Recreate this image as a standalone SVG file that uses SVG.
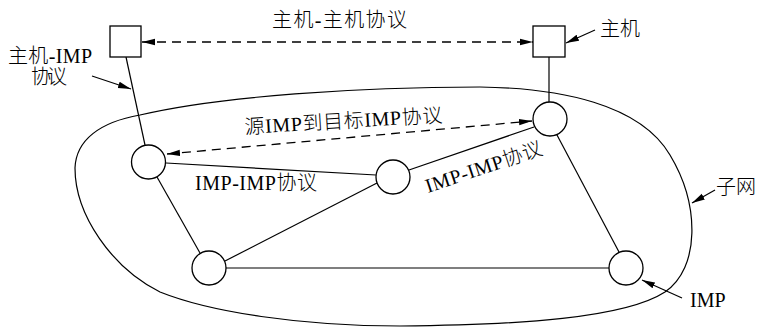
<svg xmlns="http://www.w3.org/2000/svg" width="758" height="327" viewBox="0 0 758 327">
<defs>
<style>
.ln{stroke:#000;stroke-width:1.2;fill:none}
.ds{stroke:#000;stroke-width:1.3;fill:none;stroke-dasharray:9 6}
.nd{stroke:#000;stroke-width:1.3;fill:#fff}
.tx{font-family:"Liberation Serif","Noto Sans CJK SC",serif;font-size:20px;font-weight:300;fill:#000}
</style>
<marker id="ah" markerUnits="userSpaceOnUse" markerWidth="14" markerHeight="8" refX="13" refY="4" orient="auto-start-reverse">
<path d="M0,0.8 L13,4 L0,7.2 Z" fill="#000"/>
</marker>
</defs>
<rect width="758" height="327" fill="#fff"/>
<g id="subnet">
<path class="ln" d="M140 115 C220 96 360 87 480 87 C560 88 640 104 670 155 C700 205 700 268 665 292 C625 318 520 325 400 326 C300 326 210 312 160 292 C112 268 75 215 75 168 C76 140 100 122 140 115 Z"/>
</g>
<g id="connectors">
<line class="ln" x1="126" y1="57" x2="145" y2="145"/>
<line class="ln" x1="549" y1="57" x2="549" y2="102"/>
<line class="ln" x1="166" y1="163" x2="376" y2="175"/>
<line class="ln" x1="409" y1="170" x2="534" y2="127"/>
<line class="ln" x1="157" y1="177" x2="200" y2="253"/>
<line class="ln" x1="225" y1="261" x2="377" y2="183"/>
<line class="ln" x1="226" y1="268" x2="609" y2="268"/>
<line class="ln" x1="557" y1="135" x2="619" y2="252"/>
<line class="ds" x1="142" y1="42" x2="533" y2="42" marker-start="url(#ah)" marker-end="url(#ah)"/>
<line class="ds" x1="167" y1="154" x2="532" y2="121" marker-start="url(#ah)" marker-end="url(#ah)"/>
<line class="ln" x1="92" y1="76" x2="131" y2="89" marker-end="url(#ah)"/>
<line class="ln" x1="595" y1="30" x2="566" y2="43" marker-end="url(#ah)"/>
<line class="ln" x1="715" y1="190" x2="692" y2="203" marker-end="url(#ah)"/>
<line class="ln" x1="682" y1="298" x2="642" y2="280" marker-end="url(#ah)"/>
</g>
<g id="host1"><rect class="nd" x="110" y="26" width="31" height="31"/></g>
<g id="host2"><rect class="nd" x="533" y="26" width="32" height="31"/></g>
<g id="impA"><circle class="nd" cx="148.5" cy="162" r="17"/></g>
<g id="impB"><circle class="nd" cx="550" cy="119" r="17"/></g>
<g id="impC"><circle class="nd" cx="393" cy="177" r="17"/></g>
<g id="impD"><circle class="nd" cx="209" cy="268" r="17"/></g>
<g id="impE"><circle class="nd" cx="626" cy="268" r="17"/></g>
<g id="labels">
<text class="tx" x="272" y="27" textLength="135" lengthAdjust="spacing">主机-主机协议</text>
<text class="tx" x="8" y="63" textLength="84" lengthAdjust="spacing">主机-IMP</text>
<text class="tx" x="31" y="84" textLength="36" lengthAdjust="spacing">协议</text>
<text class="tx" x="600" y="36">主机</text>
<text class="tx" x="716" y="194">子网</text>
<text class="tx" x="690" y="307">IMP</text>
<text class="tx" x="195" y="190" textLength="122" lengthAdjust="spacing">IMP-IMP协议</text>
<text class="tx" transform="translate(245 134) rotate(-3.5)" textLength="198" lengthAdjust="spacing">源IMP到目标IMP协议</text>
<text class="tx" transform="translate(428 193) rotate(-18.6)" textLength="122" lengthAdjust="spacing">IMP-IMP协议</text>
</g>
</svg>
